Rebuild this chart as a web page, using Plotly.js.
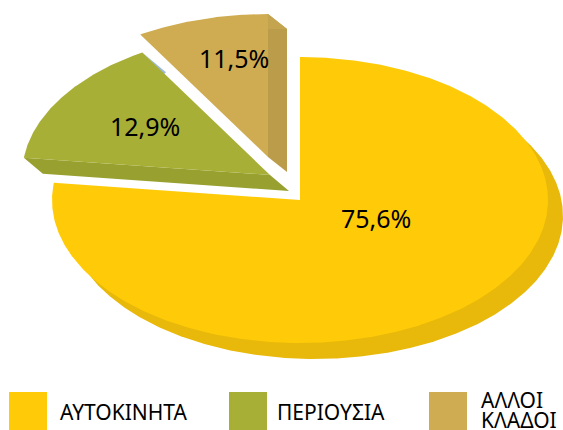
<!DOCTYPE html>
<html>
<head>
<meta charset="utf-8">
<script src="https://cdn.plot.ly/plotly-3.0.1.min.js"></script>
<style>html,body{margin:0;padding:0;background:#fff;overflow:hidden}#chart{width:563px;height:430px}</style>
</head>
<body>
<div id="chart"></div>
<script>
const categories = ['ΑΥΤΟΚΙΝΗΤΑ', 'ΠΕΡΙΟΥΣΙΑ', 'ΑΛΛΟΙ ΚΛΑΔΟΙ'];
const shares = [75.6, 12.9, 11.5];

const faceColors = ['#FFCB08', '#A8AF37', '#CFAC52'];
const wallColors = ['#E8B90A', '#98A02F', '#BB9C4A'];
const wallTopColor = '#C4A44E';
const slipColor = '#9DB9DC';

// projection of the tilted pie, in axis units (axes are 1 unit = 1 px)
const RX = 248, RY = 143;
const apexes = [[300, 200], [270, 175], [268, 157]];
const depths = [[15, 16], [19, 16], [19, 15]];
const labelPos = [[376, 218], [145, 126], [234, 58]];
const legendX = [9, 229, 429];
const legendTextX = [58, 275, 479];
// perspective shift of the slice boundaries, in degrees
const boundaryShift = [0, 4.8, 10.4, 0];

const cum = [0];
const total = shares.reduce((a, b) => a + b, 0);
shares.forEach(v => cum.push(cum[cum.length - 1] + v / total * 360));
const shown = cum.map((a, i) => a + boundaryShift[i]);

function wedge(i, off) {
  const [ax, ay] = apexes[i];
  const dx = off ? depths[i][0] : 0, dy = off ? depths[i][1] : 0;
  const xs = [ax + dx], ys = [ay + dy];
  const a0 = shown[i], a1 = shown[i + 1];
  const n = Math.ceil((a1 - a0) * 2);
  for (let k = 0; k <= n; k++) {
    const t = (a0 + (a1 - a0) * k / n) * Math.PI / 180;
    xs.push(ax + dx + RX * Math.sin(t));
    ys.push(ay + dy - RY * Math.cos(t));
  }
  xs.push(ax + dx); ys.push(ay + dy);
  return {xs, ys};
}
function rim(i, ang) {
  const t = ang * Math.PI / 180;
  return [apexes[i][0] + RX * Math.sin(t), apexes[i][1] - RY * Math.cos(t)];
}
function poly(xs, ys, color, name) {
  return {type: 'scatter', mode: 'lines', x: xs, y: ys, fill: 'toself', fillcolor: color,
    line: {width: 0, color: color}, hoverinfo: 'skip', name: name, showlegend: false};
}

const traces = [];
let w = wedge(0, true);
traces.push(poly(w.xs, w.ys, wallColors[0], 'wall 0'));
w = wedge(0, false);
traces.push(poly(w.xs, w.ys, faceColors[0], 'ΑΥΤΟΚΙΝΗΤΑ'));
{
  const [ax, ay] = apexes[1], [dx, dy] = depths[1];
  const [rx, ry] = rim(1, shown[1]);
  traces.push(poly([rx, rx + dx, ax + dx, ax, rx], [ry, ry + dy, ay + dy, ay, ry], wallColors[1], 'wall 1'));
  // thin pale sliver on the upper cut edge
  const [ex, ey] = rim(1, shown[2]);
  const mx = ex + (ax - ex) * 0.17, my = ey + (ay - ey) * 0.17;
  traces.push(poly([ex, mx + 2, mx, ex], [ey, my - 1, my + 1, ey], slipColor, 'sliver'));
  w = wedge(1, false);
  traces.push(poly(w.xs, w.ys, faceColors[1], 'ΠΕΡΙΟΥΣΙΑ'));
}
{
  const [ax, ay] = apexes[2], [dx, dy] = depths[2];
  const [rx, ry] = rim(2, shown[3]);
  traces.push(poly([rx, rx + dx, ax + dx, ax, rx], [ry, ry + dy, ay + dy, ay, ry], wallColors[2], 'wall 2'));
  traces.push(poly([rx, rx + dx, rx, rx], [ry, ry + dy, ry + dy, ry], wallTopColor, 'wall 2 top'));
  w = wedge(2, false);
  traces.push(poly(w.xs, w.ys, faceColors[2], 'ΑΛΛΟΙ ΚΛΑΔΟΙ'));
}

const annotations = shares.map((v, i) => ({
  x: labelPos[i][0], y: labelPos[i][1], xref: 'x', yref: 'y', showarrow: false,
  text: v.toFixed(1).replace('.', ',') + '%',
  font: {family: '"Noto Sans", sans-serif', size: 25, color: '#000'}
}));
const legendFont = {family: '"Noto Sans", sans-serif', size: 21, color: '#000'};
categories.forEach((c, i) => {
  const words = c.split(' ');
  const ys = words.length > 1 ? [400, 420] : [412];
  words.forEach((word, k) => annotations.push({
    x: legendTextX[i], y: ys[k], xref: 'x', yref: 'y', xanchor: 'left', yanchor: 'middle',
    showarrow: false, text: word, font: legendFont
  }));
});
const shapes = categories.map((c, i) => ({
  type: 'rect', xref: 'x', yref: 'y', x0: legendX[i], x1: legendX[i] + 38, y0: 392, y1: 431,
  fillcolor: faceColors[i], line: {width: 0}
}));

const layout = {
  width: 563, height: 430, margin: {l: 0, r: 0, t: 0, b: 0},
  paper_bgcolor: '#fff', plot_bgcolor: '#fff', showlegend: false, hovermode: false,
  xaxis: {range: [0, 563], visible: false, fixedrange: true},
  yaxis: {range: [430, 0], visible: false, fixedrange: true},
  annotations, shapes
};
Plotly.newPlot('chart', traces, layout, {displayModeBar: false, staticPlot: true});
</script>
</body>
</html>
